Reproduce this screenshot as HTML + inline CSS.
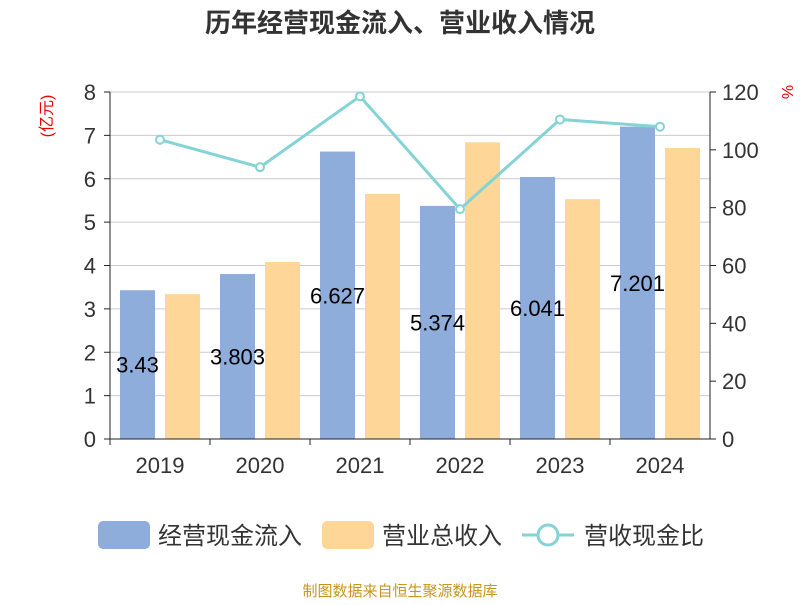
<!DOCTYPE html>
<html><head><meta charset="utf-8"><style>
body{margin:0;background:#fff;font-family:"Liberation Sans","Noto Sans CJK SC",sans-serif}
</style></head><body>
<svg width="800" height="600" xmlns="http://www.w3.org/2000/svg" font-family="Liberation Sans, Noto Sans CJK SC, sans-serif">
<text x="400" y="32" text-anchor="middle" font-size="26" font-weight="bold" fill="#333">历年经营现金流入、营业收入情况</text>
<text transform="translate(52,116) rotate(-90)" text-anchor="middle" font-size="16" fill="#e00">(亿元)</text>
<text transform="translate(782,92) rotate(90)" text-anchor="middle" font-size="16" fill="#e00">%</text>
<g id="grid"></g><g id="bars"></g><g id="line"></g><g id="axes"></g>
<g>
<rect x="98" y="521" width="52" height="28" rx="5" fill="#8eadda"/>
<text x="158" y="544" font-size="24" fill="#333">经营现金流入</text>
<rect x="322" y="521" width="52" height="28" rx="5" fill="#fed798"/>
<text x="382" y="544" font-size="24" fill="#333">营业总收入</text>
<line x1="522" y1="535" x2="574" y2="535" stroke="#84d3d5" stroke-width="3"/>
<circle cx="548" cy="535" r="10" fill="#fff" stroke="#84d3d5" stroke-width="3"/>
<text x="584" y="544" font-size="24" fill="#333">营收现金比</text>
</g>
<text x="400" y="596" text-anchor="middle" font-size="15" fill="#c8961e">制图数据来自恒生聚源数据库</text>
</svg>
<script>
const categories=["2019","2020","2021","2022","2023","2024"];
const cashInflow=[3.43,3.803,6.627,5.374,6.041,7.201];
const revenue=[3.34,4.08,5.65,6.84,5.53,6.71];
const ratio=[103.5,94,118.5,79.5,110.5,108];
const leftTicks=[0,1,2,3,4,5,6,7,8];
const rightTicks=[0,20,40,60,80,100,120];
const NS="http://www.w3.org/2000/svg";
const X0=110,X1=710,Y0=439,Y1=92;
const yL=v=>Y0-(v/8)*(Y0-Y1);
const yR=v=>Y0-(v/120)*(Y0-Y1);
const band=(X1-X0)/categories.length;
const xc=i=>X0+band*(i+0.5);
function mk(t,a,p){const e=document.createElementNS(NS,t);for(const k in a)e.setAttribute(k,a[k]);p.appendChild(e);return e;}
const grid=document.getElementById('grid'),bars=document.getElementById('bars'),line=document.getElementById('line'),axes=document.getElementById('axes');
leftTicks.forEach(v=>{
 const g=mk('line',{x1:X0,x2:X1,y1:yL(v),y2:yL(v),stroke:'#ccc','stroke-width':1},grid);
 
 
 const t=mk('text',{x:X0-14,y:yL(v)+8,'text-anchor':'end','font-size':22,fill:'#333'},axes);t.textContent=v;
 
 
 const k=mk('line',{x1:X0-6,x2:X0,y1:yL(v),y2:yL(v),stroke:'#222'},axes);
 
 
});
rightTicks.forEach(v=>{
 const t=mk('text',{x:X1+12,y:yR(v)+8,'font-size':22,fill:'#333'},axes);t.textContent=v;
 
 
 const k=mk('line',{x1:X1,x2:X1+6,y1:yR(v),y2:yR(v),stroke:'#222'},axes);
 
 
});
let a=mk('line',{x1:X0,x2:X0,y1:Y1,y2:Y0,stroke:'#222'},axes);


a=mk('line',{x1:X1,x2:X1,y1:Y1,y2:Y0,stroke:'#222'},axes);


a=mk('line',{x1:X0,x2:X1,y1:Y0,y2:Y0,stroke:'#222'},axes);


categories.forEach((c,i)=>{
 const k=mk('line',{x1:X0+band*i,x2:X0+band*i,y1:Y0,y2:Y0+6,stroke:'#222'},axes);
 
 
 const t=mk('text',{x:xc(i),y:Y0+34,'text-anchor':'middle','font-size':22,fill:'#333'},axes);t.textContent=c;
 
 
 const bx=xc(i)-40;
 const b1=mk('rect',{x:bx,y:yL(cashInflow[i]),width:35,height:Y0-yL(cashInflow[i]),fill:'#8eadda'},bars);
 
 
 const b2=mk('rect',{x:bx+45,y:yL(revenue[i]),width:35,height:Y0-yL(revenue[i]),fill:'#fed798'},bars);
 
 
 const lb=mk('text',{x:bx+17.5,y:(yL(cashInflow[i])+Y0)/2+8,'text-anchor':'middle','font-size':22,fill:'#000'},line);lb.textContent=cashInflow[i];
 
 
});
const pl=mk('polyline',{points:ratio.map((v,i)=>xc(i)+','+yR(v)).join(' '),fill:'none',stroke:'#84d3d5','stroke-width':3},line);


ratio.forEach((v,i)=>{
 const p=mk('circle',{cx:xc(i),cy:yR(v),r:4,fill:'#fff',stroke:'#84d3d5','stroke-width':2},line);
 
 
});
</script>
</body></html>
